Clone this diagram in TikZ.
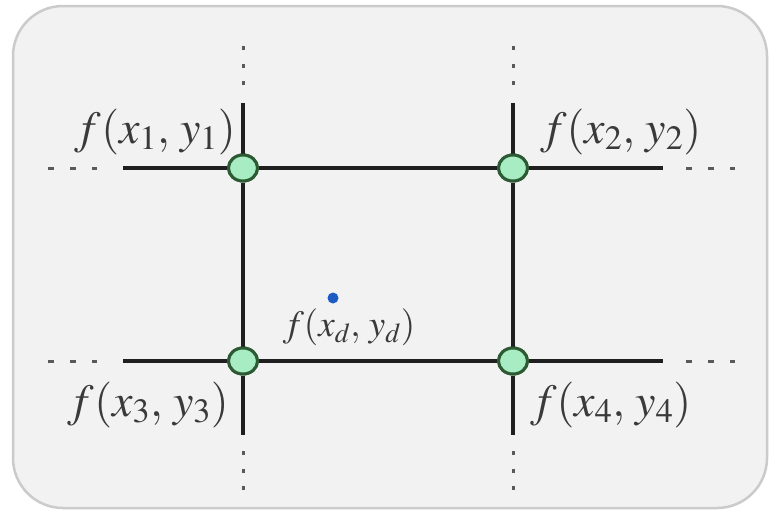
\documentclass[tikz,border=0pt]{standalone}
\usepackage{mathptmx}
\usetikzlibrary{positioning,calc}
\definecolor{ipFrame}{HTML}{CBCBCB}
\definecolor{ipPanel}{HTML}{F2F2F2}
\definecolor{ipKnot}{HTML}{A8ECC3}
\definecolor{ipKnotRim}{HTML}{2C5A33}
\definecolor{ipQuery}{HTML}{1F5BC4}
\definecolor{ipDots}{HTML}{5A5A5A}
\definecolor{ipText}{HTML}{3A3A3A}
\tikzset{
  panel/.style={draw=ipFrame, fill=ipPanel, line width=2.5pt, rounded corners=50pt},
  gridline/.style={line width=3.6pt, black!88},
  vdots/.style={ipDots, line width=3pt, dash pattern=on 4pt off 13.5pt},
  hdots/.style={ipDots, line width=3pt, dash pattern=on 6pt off 16pt},
  knot/.style={ellipse, draw=ipKnotRim, fill=ipKnot, line width=3pt,
    minimum width=29pt, minimum height=26pt, inner sep=0pt},
  query/.style={circle, fill=ipQuery, minimum size=11pt, inner sep=0pt},
  vlabel/.style={font=\fontsize{46}{48}\selectfont, text=ipText, inner sep=0pt},
  qlabel/.style={vlabel, font=\fontsize{37}{39}\selectfont}
}
\usetikzlibrary{shapes.geometric}
\begin{document}
\begin{tikzpicture}[x=1pt, y=-1pt]
  \useasboundingbox (0,0) rectangle (774,515);
  \fill[white] (0,0) rectangle (774,515);
  \draw[panel] (13,6) rectangle (767,508);

  % grid knots
  \node[knot] (p1) at (243,168) {};
  \node[knot] (p2) at (513,168) {};
  \node[knot] (p3) at (243,361) {};
  \node[knot] (p4) at (513,361) {};

  % line ends
  \coordinate (w1) at (123,168);  \coordinate (e1) at (663,168);
  \coordinate (w3) at (123,361);  \coordinate (e3) at (663,361);
  \coordinate (n1) at (243,103);  \coordinate (s3) at (243,435);
  \coordinate (n2) at (513,103);  \coordinate (s4) at (513,435);

  \draw[gridline] (w1) -- (p1) -- (p2) -- (e1);
  \draw[gridline] (w3) -- (p3) -- (p4) -- (e3);
  \draw[gridline] (n1) -- (p1) -- (p3) -- (s3);
  \draw[gridline] (n2) -- (p2) -- (p4) -- (s4);
  \foreach \k in {p1,p2,p3,p4}
    \node[knot] at (\k) {};

  % continuation dots
  \draw[vdots] ($(n1)+(0,-57)$) -- ($(n1)+(0,-14)$);
  \draw[vdots] ($(n2)+(0,-57)$) -- ($(n2)+(0,-14)$);
  \draw[vdots] ($(s3)+(0,16)$) -- ($(s3)+(0,58)$);
  \draw[vdots] ($(s4)+(0,16)$) -- ($(s4)+(0,58)$);
  \draw[hdots] ($(w1)+(-75,0)$) -- ($(w1)+(-26,0)$);
  \draw[hdots] ($(w3)+(-75,0)$) -- ($(w3)+(-26,0)$);
  \draw[hdots] ($(e1)+(23,0)$) -- ($(e1)+(72,0)$);
  \draw[hdots] ($(e3)+(23,0)$) -- ($(e3)+(72,0)$);

  % values
  \node[vlabel, anchor=base east] (f1) at (236,143) {$f(x_1,\, y_1)$};
  \node[vlabel, anchor=base west] (f2) at (540,143) {$f(x_2,\, y_2)$};
  \node[vlabel, anchor=base east] (f3) at (229,416) {$f(x_3,\, y_3)$};
  \node[vlabel, anchor=base west] (f4) at (530,416) {$f(x_4,\, y_4)$};

  \node[query] (q) at (333,298) {};
  \node[qlabel, anchor=base] (fq) at (349,336) {$f(x_d,\, y_d)$};
\end{tikzpicture}
\end{document}
